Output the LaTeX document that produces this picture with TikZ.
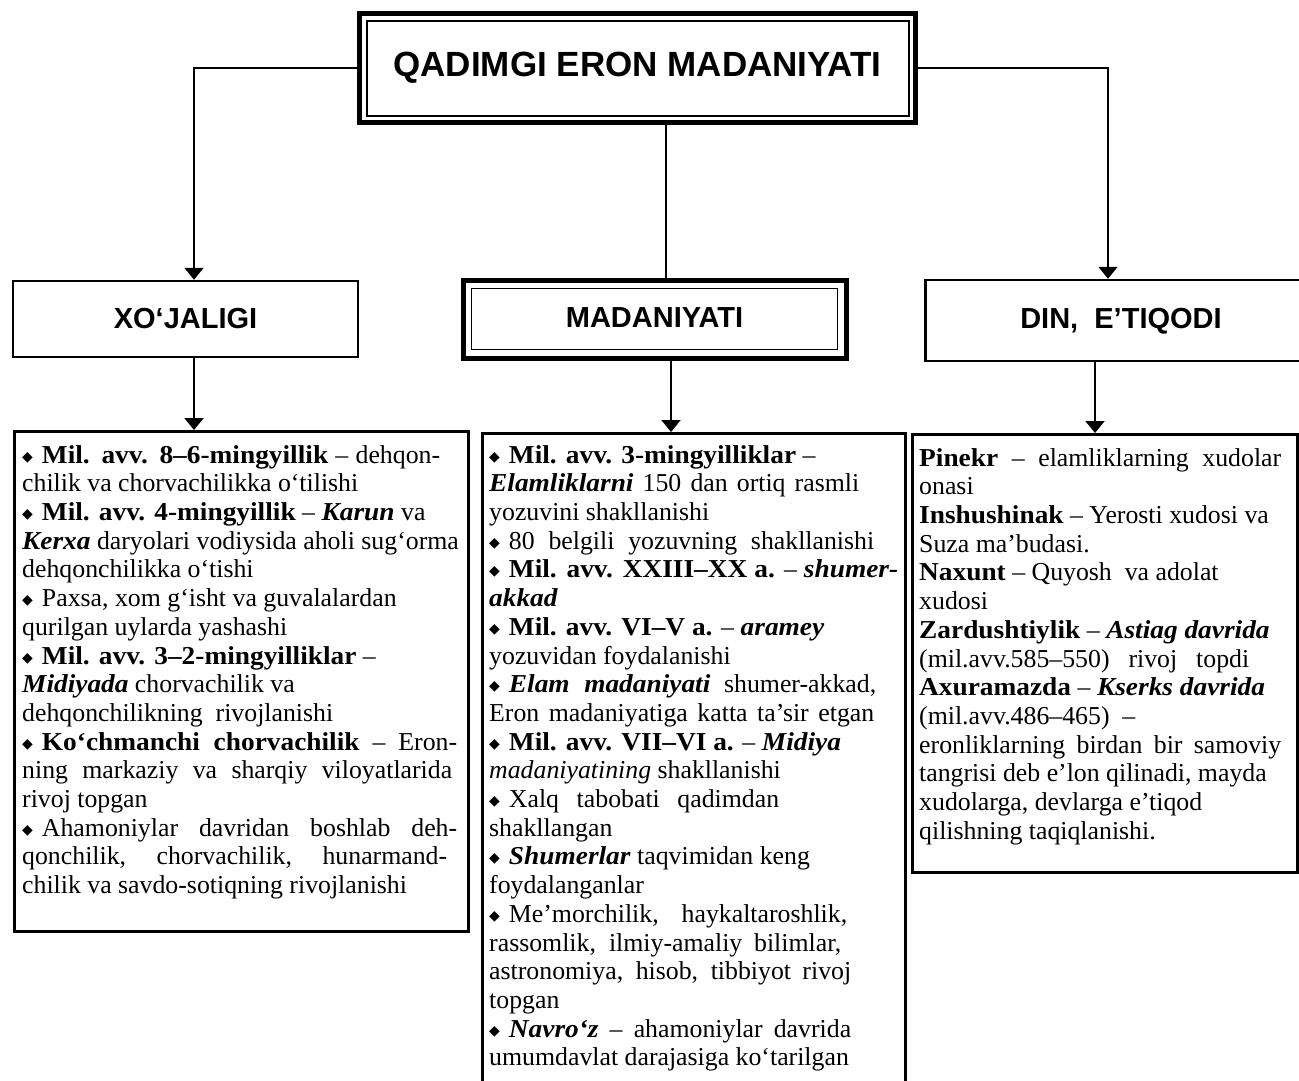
\documentclass[tikz,border=0pt]{standalone}
\usepackage{fontspec}
\setmainfont{Liberation Serif}[BoldFeatures={FakeStretch=1.06}, BoldItalicFeatures={FakeStretch=1.06}]
\setsansfont{Liberation Sans}
\newfontfamily\symfont{DejaVu Sans}
\usetikzlibrary{arrows.meta}

\newcommand{\rhomb}{\raisebox{2pt}{\symfont\fontsize{14}{14}\selectfont ◆}\hspace{9pt}}
\newcommand{\bfit}[1]{\textbf{\textit{#1}}}
\newcommand{\jl}[2]{\makebox[#1pt][s]{#2}}

\tikzset{
  headfont/.style={font=\sffamily\bfseries\fontsize{29}{29}\selectfont},
  head/.style={draw, line width=2.5pt, headfont},
  heavybox/.style={draw, line width=5pt},
  txtbox/.style={draw, line width=2.5pt, anchor=north west},
  txt/.style={anchor=north west, align=left, inner sep=0pt, font=\fontsize{25.8}{28.7}\selectfont},
  conn/.style={line width=2pt},
  arr/.style={conn, -{Triangle[width=19pt,length=12pt]}}
}

\begin{document}
\begin{tikzpicture}[x=1pt,y=-1pt]
  \useasboundingbox (0,0) rectangle (1299,1080);

  % top
  \node[heavybox, minimum width=556pt, minimum height=109pt, font=\sffamily\bfseries\fontsize{35}{35}\selectfont] (title) at (637.5,68) {QADIMGI ERON MADANIYATI};
  \draw[line width=1.5pt] ([xshift=10pt,yshift=-10pt]title.north west) rectangle ([xshift=-9pt,yshift=9pt]title.south east);

  % second row
  \node[head, minimum width=345pt, minimum height=76pt] (xoj) at (185.5,319) {XO‘JALIGI};
  \node[heavybox, headfont, minimum width=383pt, minimum height=78pt] (mad) at (654.5,319) {\raisebox{3pt}{MADANIYATI}};
  \draw[line width=1.5pt] ([xshift=11pt,yshift=-11pt]mad.north west) rectangle ([xshift=-11pt,yshift=11pt]mad.south east);
  \node[head, minimum width=386pt, minimum height=81pt, anchor=west] (din) at (924,320.5) {};
  \node[headfont] at (1121,321) {DIN, \ E’TIQODI};

  % bottom boxes
  \node[txtbox, minimum width=454pt, minimum height=500pt] (xojbox) at (13,430) {};
  \node[txtbox, minimum width=423pt, minimum height=660pt] (madbox) at (481,432) {};
  \node[txtbox, minimum width=385pt, minimum height=438pt] (dinbox) at (911,433) {};

  % connectors
  \coordinate (lx) at (194,0);
  \coordinate (mx) at (666,0);
  \coordinate (rx) at (1108,0);
  \coordinate (mx2) at (671,0);
  \coordinate (rx2) at (1095,0);
  \draw[arr] (title.west) -| (lx |- xoj.north);
  \draw[arr] (title.east) -| (rx |- din.north);
  \draw[conn] (mx |- title.south) -- (mx |- mad.north);
  \draw[arr] (lx |- xoj.south) -- (lx |- xojbox.north);
  \draw[arr] (mx2 |- mad.south) -- (mx2 |- madbox.north);
  \draw[arr] (rx2 |- din.south) -- (rx2 |- dinbox.north);

  % texts
  \node[txt] (xojtxt) at ([xshift=9pt,yshift=-15pt]xojbox.north west) {%
    \jl{418}{\rhomb\textbf{Mil. avv. 8--6-mingyillik} -- dehqon-}\\
    chilik va chorvachilikka o‘tilishi\\
    \rhomb\textbf{Mil. avv. 4-mingyillik} -- \bfit{Karun} va\\
    \bfit{Kerxa} daryolari vodiysida aholi sug‘orma\\
    dehqonchilikka o‘tishi\\
    \rhomb Paxsa, xom g‘isht va guvalalardan\\
    qurilgan uylarda yashashi\\
    \rhomb\textbf{Mil. avv. 3--2-mingyilliklar} --\\
    \bfit{Midiyada} chorvachilik va\\
    dehqonchilikning\ \ rivojlanishi\\
    \jl{435}{\rhomb\textbf{Ko‘chmanchi chorvachilik} -- Eron-}\\
    \jl{430}{ning markaziy va sharqiy viloyatlarida}\\
    rivoj topgan\\
    \jl{435}{\rhomb Ahamoniylar davridan boshlab deh-}\\
    \jl{425}{qonchilik, chorvachilik, hunarmand-}\\
    chilik va savdo-sotiqning rivojlanishi};

  \node[txt] (madtxt) at ([xshift=8pt,yshift=-13pt]madbox.north west) {%
    \rhomb\textbf{Mil. avv. 3-mingyilliklar} --\\
    \jl{370}{\bfit{Elamliklarni} 150 dan ortiq rasmli}\\
    yozuvini\ shakllanishi\\
    \jl{385}{\rhomb 80 belgili yozuvning shakllanishi}\\
    \jl{409}{\rhomb\textbf{Mil. avv. XXIII--XX a.} -- \bfit{shumer-}}\\
    \bfit{akkad}\\
    \rhomb\textbf{Mil. avv. VI--V a.} -- \bfit{aramey}\\
    yozuvidan\ foydalanishi\\
    \jl{387}{\rhomb\bfit{Elam madaniyati} shumer-akkad,}\\
    \jl{385}{Eron madaniyatiga katta ta’sir etgan}\\
    \rhomb\textbf{Mil. avv. VII--VI a.} -- \bfit{Midiya}\\
    \textit{madaniyatining} shakllanishi\\
    \jl{290}{\rhomb Xalq tabobati qadimdan}\\
    shakllangan\\
    \rhomb\bfit{Shumerlar} taqvimidan keng\\
    foydalanganlar\\
    \jl{358}{\rhomb Me’morchilik, haykaltaroshlik,}\\
    \jl{352}{rassomlik, ilmiy-amaliy bilimlar,}\\
    \jl{362}{astronomiya, hisob, tibbiyot rivoj}\\
    topgan\\
    \jl{362}{\rhomb\bfit{Navro‘z} -- ahamoniylar davrida}\\
    umumdavlat darajasiga ko‘tarilgan};

  \node[txt] (dintxt) at ([xshift=8pt,yshift=-15pt]dinbox.north west) {%
    \jl{362}{\textbf{Pinekr} -- elamliklarning xudolar}\\
    onasi\\
    \textbf{Inshushinak} -- Yerosti xudosi va\\
    Suza ma’budasi.\\
    \textbf{Naxunt} -- Quyosh\ \ va adolat\\
    xudosi\\
    \textbf{Zardushtiylik} -- \bfit{Astiag davrida}\\
    \jl{330}{(mil.avv.585--550) rivoj topdi}\\
    \textbf{Axuramazda} -- \bfit{Kserks davrida}\\
    (mil.avv.486--465)\ \ --\\
    \jl{362}{eronliklarning birdan bir samoviy}\\
    tangrisi deb e’lon qilinadi, mayda\\
    xudolarga, devlarga e’tiqod\\
    qilishning\ taqiqlanishi.};
\end{tikzpicture}
\end{document}
